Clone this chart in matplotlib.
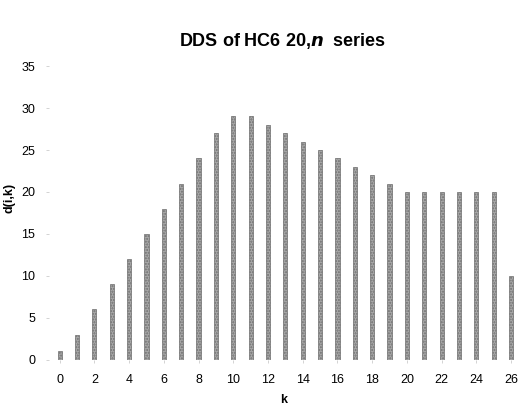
import matplotlib
matplotlib.use("Agg")
import matplotlib.pyplot as plt

plt.rcParams['font.family'] = ['Liberation Sans', 'DejaVu Sans']

# distance degree sequence values
k = list(range(27))
d = [1, 3, 6, 9, 12, 15, 18, 21, 24, 27, 29, 29, 28, 27, 26, 25, 24, 23, 22,
     21, 20, 20, 20, 20, 20, 20, 10]
xticks = list(range(0, 27, 2))
yticks = list(range(0, 36, 5))

fig = plt.figure(figsize=(5.18, 4.08), dpi=100)
ax = fig.add_axes([0.095, 0.118, 0.905, 0.72])

ax.bar(k, d, width=0.24, color='#a8a8a8', edgecolor='#6e6e6e', linewidth=0.5,
       hatch='......')

ax.set_xlim(-0.6, 26.4)
ax.set_ylim(0, 35)
ax.set_xticks(xticks)
ax.set_yticks(yticks)
for s in ax.spines.values():
    s.set_visible(False)
ax.tick_params(axis='both', colors='#cccccc', labelcolor='black', labelsize=9,
               length=2, width=0.6)
ax.tick_params(axis='x', pad=8)
ax.tick_params(axis='y', pad=8)

ax.set_xlabel("k", fontsize=9, fontweight='bold', labelpad=6)
ax.set_ylabel("d(i,k)", fontsize=9, fontweight='bold')
ax.yaxis.set_label_coords(-0.072, 0.55)
fig.text(0.546, 0.9, r"DDS of HC6 20,$\boldsymbol{n}$  series", ha='center', va='center',
         fontsize=13, fontweight='bold')

fig.savefig("out.png", dpi=100)
